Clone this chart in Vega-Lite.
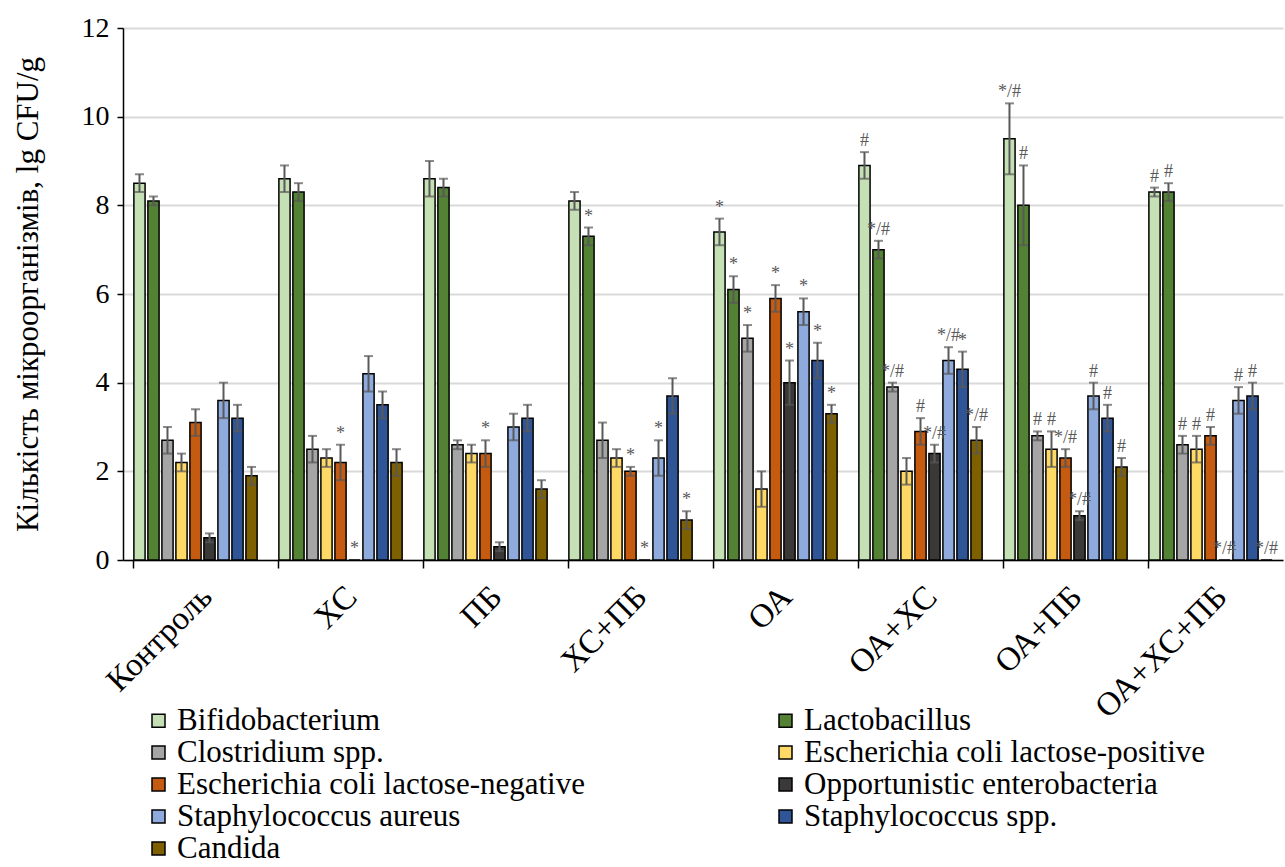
{
  "$schema": "https://vega.github.io/schema/vega-lite/v6.json",
  "autosize": {"type": "none"},
  "width": 1160,
  "height": 532,
  "padding": {"left": 123, "top": 28, "right": 2, "bottom": 307},
  "background": "white",
  "config": {
    "view": {"stroke": null},
    "font": "Liberation Serif",
    "axis": {"labelFont": "Liberation Serif", "titleFont": "Liberation Serif"},
    "legend": {"labelFont": "Liberation Serif", "titleFont": "Liberation Serif"},
    "text": {"font": "Liberation Serif"}
  },
  "data": {
    "values": [
      {"g": "Контроль", "s": "Bifidobacterium", "v": 8.5, "lo": 8.3, "hi": 8.7, "sig": ""},
      {"g": "Контроль", "s": "Lactobacillus", "v": 8.1, "lo": 8.0, "hi": 8.2, "sig": ""},
      {"g": "Контроль", "s": "Clostridium spp.", "v": 2.7, "lo": 2.4, "hi": 3.0, "sig": ""},
      {"g": "Контроль", "s": "Escherichia coli lactose-positive", "v": 2.2, "lo": 2.0, "hi": 2.4, "sig": ""},
      {"g": "Контроль", "s": "Escherichia coli lactose-negative", "v": 3.1, "lo": 2.8, "hi": 3.4, "sig": ""},
      {"g": "Контроль", "s": "Opportunistic enterobacteria", "v": 0.5, "lo": 0.4, "hi": 0.6, "sig": ""},
      {"g": "Контроль", "s": "Staphylococcus aureus", "v": 3.6, "lo": 3.2, "hi": 4.0, "sig": ""},
      {"g": "Контроль", "s": "Staphylococcus spp.", "v": 3.2, "lo": 2.9, "hi": 3.5, "sig": ""},
      {"g": "Контроль", "s": "Candida", "v": 1.9, "lo": 1.7, "hi": 2.1, "sig": ""},

      {"g": "ХС", "s": "Bifidobacterium", "v": 8.6, "lo": 8.3, "hi": 8.9, "sig": ""},
      {"g": "ХС", "s": "Lactobacillus", "v": 8.3, "lo": 8.1, "hi": 8.5, "sig": ""},
      {"g": "ХС", "s": "Clostridium spp.", "v": 2.5, "lo": 2.2, "hi": 2.8, "sig": ""},
      {"g": "ХС", "s": "Escherichia coli lactose-positive", "v": 2.3, "lo": 2.1, "hi": 2.5, "sig": ""},
      {"g": "ХС", "s": "Escherichia coli lactose-negative", "v": 2.2, "lo": 1.8, "hi": 2.6, "sig": "*"},
      {"g": "ХС", "s": "Opportunistic enterobacteria", "v": 0, "lo": 0, "hi": 0, "sig": "*"},
      {"g": "ХС", "s": "Staphylococcus aureus", "v": 4.2, "lo": 3.8, "hi": 4.6, "sig": ""},
      {"g": "ХС", "s": "Staphylococcus spp.", "v": 3.5, "lo": 3.2, "hi": 3.8, "sig": ""},
      {"g": "ХС", "s": "Candida", "v": 2.2, "lo": 1.9, "hi": 2.5, "sig": ""},

      {"g": "ПБ", "s": "Bifidobacterium", "v": 8.6, "lo": 8.2, "hi": 9.0, "sig": ""},
      {"g": "ПБ", "s": "Lactobacillus", "v": 8.4, "lo": 8.2, "hi": 8.6, "sig": ""},
      {"g": "ПБ", "s": "Clostridium spp.", "v": 2.6, "lo": 2.5, "hi": 2.7, "sig": ""},
      {"g": "ПБ", "s": "Escherichia coli lactose-positive", "v": 2.4, "lo": 2.2, "hi": 2.6, "sig": ""},
      {"g": "ПБ", "s": "Escherichia coli lactose-negative", "v": 2.4, "lo": 2.1, "hi": 2.7, "sig": "*"},
      {"g": "ПБ", "s": "Opportunistic enterobacteria", "v": 0.3, "lo": 0.2, "hi": 0.4, "sig": ""},
      {"g": "ПБ", "s": "Staphylococcus aureus", "v": 3.0, "lo": 2.7, "hi": 3.3, "sig": ""},
      {"g": "ПБ", "s": "Staphylococcus spp.", "v": 3.2, "lo": 2.9, "hi": 3.5, "sig": ""},
      {"g": "ПБ", "s": "Candida", "v": 1.6, "lo": 1.4, "hi": 1.8, "sig": ""},

      {"g": "ХС+ПБ", "s": "Bifidobacterium", "v": 8.1, "lo": 7.9, "hi": 8.3, "sig": ""},
      {"g": "ХС+ПБ", "s": "Lactobacillus", "v": 7.3, "lo": 7.1, "hi": 7.5, "sig": "*"},
      {"g": "ХС+ПБ", "s": "Clostridium spp.", "v": 2.7, "lo": 2.3, "hi": 3.1, "sig": ""},
      {"g": "ХС+ПБ", "s": "Escherichia coli lactose-positive", "v": 2.3, "lo": 2.1, "hi": 2.5, "sig": ""},
      {"g": "ХС+ПБ", "s": "Escherichia coli lactose-negative", "v": 2.0, "lo": 1.9, "hi": 2.1, "sig": "*"},
      {"g": "ХС+ПБ", "s": "Opportunistic enterobacteria", "v": 0, "lo": 0, "hi": 0, "sig": "*"},
      {"g": "ХС+ПБ", "s": "Staphylococcus aureus", "v": 2.3, "lo": 1.9, "hi": 2.7, "sig": "*"},
      {"g": "ХС+ПБ", "s": "Staphylococcus spp.", "v": 3.7, "lo": 3.3, "hi": 4.1, "sig": ""},
      {"g": "ХС+ПБ", "s": "Candida", "v": 0.9, "lo": 0.7, "hi": 1.1, "sig": "*"},

      {"g": "ОА", "s": "Bifidobacterium", "v": 7.4, "lo": 7.1, "hi": 7.7, "sig": "*"},
      {"g": "ОА", "s": "Lactobacillus", "v": 6.1, "lo": 5.8, "hi": 6.4, "sig": "*"},
      {"g": "ОА", "s": "Clostridium spp.", "v": 5.0, "lo": 4.7, "hi": 5.3, "sig": "*"},
      {"g": "ОА", "s": "Escherichia coli lactose-positive", "v": 1.6, "lo": 1.2, "hi": 2.0, "sig": ""},
      {"g": "ОА", "s": "Escherichia coli lactose-negative", "v": 5.9, "lo": 5.6, "hi": 6.2, "sig": "*"},
      {"g": "ОА", "s": "Opportunistic enterobacteria", "v": 4.0, "lo": 3.5, "hi": 4.5, "sig": "*"},
      {"g": "ОА", "s": "Staphylococcus aureus", "v": 5.6, "lo": 5.3, "hi": 5.9, "sig": "*"},
      {"g": "ОА", "s": "Staphylococcus spp.", "v": 4.5, "lo": 4.1, "hi": 4.9, "sig": "*"},
      {"g": "ОА", "s": "Candida", "v": 3.3, "lo": 3.1, "hi": 3.5, "sig": "*"},

      {"g": "ОА+ХС", "s": "Bifidobacterium", "v": 8.9, "lo": 8.6, "hi": 9.2, "sig": "#"},
      {"g": "ОА+ХС", "s": "Lactobacillus", "v": 7.0, "lo": 6.8, "hi": 7.2, "sig": "*/#"},
      {"g": "ОА+ХС", "s": "Clostridium spp.", "v": 3.9, "lo": 3.8, "hi": 4.0, "sig": "*/#"},
      {"g": "ОА+ХС", "s": "Escherichia coli lactose-positive", "v": 2.0, "lo": 1.7, "hi": 2.3, "sig": ""},
      {"g": "ОА+ХС", "s": "Escherichia coli lactose-negative", "v": 2.9, "lo": 2.6, "hi": 3.2, "sig": "#"},
      {"g": "ОА+ХС", "s": "Opportunistic enterobacteria", "v": 2.4, "lo": 2.2, "hi": 2.6, "sig": "*/#"},
      {"g": "ОА+ХС", "s": "Staphylococcus aureus", "v": 4.5, "lo": 4.2, "hi": 4.8, "sig": "*/#"},
      {"g": "ОА+ХС", "s": "Staphylococcus spp.", "v": 4.3, "lo": 3.9, "hi": 4.7, "sig": "*"},
      {"g": "ОА+ХС", "s": "Candida", "v": 2.7, "lo": 2.4, "hi": 3.0, "sig": "*/#"},

      {"g": "ОА+ПБ", "s": "Bifidobacterium", "v": 9.5, "lo": 8.7, "hi": 10.3, "sig": "*/#"},
      {"g": "ОА+ПБ", "s": "Lactobacillus", "v": 8.0, "lo": 7.1, "hi": 8.9, "sig": "#"},
      {"g": "ОА+ПБ", "s": "Clostridium spp.", "v": 2.8, "lo": 2.7, "hi": 2.9, "sig": "#"},
      {"g": "ОА+ПБ", "s": "Escherichia coli lactose-positive", "v": 2.5, "lo": 2.1, "hi": 2.9, "sig": "#"},
      {"g": "ОА+ПБ", "s": "Escherichia coli lactose-negative", "v": 2.3, "lo": 2.1, "hi": 2.5, "sig": "*/#"},
      {"g": "ОА+ПБ", "s": "Opportunistic enterobacteria", "v": 1.0, "lo": 0.9, "hi": 1.1, "sig": "*/#"},
      {"g": "ОА+ПБ", "s": "Staphylococcus aureus", "v": 3.7, "lo": 3.4, "hi": 4.0, "sig": "#"},
      {"g": "ОА+ПБ", "s": "Staphylococcus spp.", "v": 3.2, "lo": 2.9, "hi": 3.5, "sig": "#"},
      {"g": "ОА+ПБ", "s": "Candida", "v": 2.1, "lo": 1.9, "hi": 2.3, "sig": "#"},

      {"g": "ОА+ХС+ПБ", "s": "Bifidobacterium", "v": 8.3, "lo": 8.2, "hi": 8.4, "sig": "#"},
      {"g": "ОА+ХС+ПБ", "s": "Lactobacillus", "v": 8.3, "lo": 8.1, "hi": 8.5, "sig": "#"},
      {"g": "ОА+ХС+ПБ", "s": "Clostridium spp.", "v": 2.6, "lo": 2.4, "hi": 2.8, "sig": "#"},
      {"g": "ОА+ХС+ПБ", "s": "Escherichia coli lactose-positive", "v": 2.5, "lo": 2.2, "hi": 2.8, "sig": "#"},
      {"g": "ОА+ХС+ПБ", "s": "Escherichia coli lactose-negative", "v": 2.8, "lo": 2.6, "hi": 3.0, "sig": "#"},
      {"g": "ОА+ХС+ПБ", "s": "Opportunistic enterobacteria", "v": 0, "lo": 0, "hi": 0, "sig": "*/#"},
      {"g": "ОА+ХС+ПБ", "s": "Staphylococcus aureus", "v": 3.6, "lo": 3.3, "hi": 3.9, "sig": "#"},
      {"g": "ОА+ХС+ПБ", "s": "Staphylococcus spp.", "v": 3.7, "lo": 3.4, "hi": 4.0, "sig": "#"},
      {"g": "ОА+ХС+ПБ", "s": "Candida", "v": 0, "lo": 0, "hi": 0, "sig": "*/#"}
    ]
  },
  "encoding": {
    "x": {
      "field": "g", "type": "nominal",
      "sort": ["Контроль", "ХС", "ПБ", "ХС+ПБ", "ОА", "ОА+ХС", "ОА+ПБ", "ОА+ХС+ПБ"],
      "scale": {"paddingInner": 0.15, "paddingOuter": 0.075},
      "axis": null
    },
    "xOffset": {
      "field": "s", "type": "nominal",
      "sort": ["Bifidobacterium", "Lactobacillus", "Clostridium spp.", "Escherichia coli lactose-positive", "Escherichia coli lactose-negative", "Opportunistic enterobacteria", "Staphylococcus aureus", "Staphylococcus spp.", "Candida"],
      "scale": {"paddingInner": 0.2, "paddingOuter": 0}
    }
  },
  "layer": [
    {
      "mark": {"type": "bar", "stroke": "black", "strokeWidth": 1.5},
      "encoding": {
        "x": {
          "field": "g", "type": "nominal",
          "sort": ["Контроль", "ХС", "ПБ", "ХС+ПБ", "ОА", "ОА+ХС", "ОА+ПБ", "ОА+ХС+ПБ"],
          "title": null,
          "axis": {
            "orient": "bottom",
            "labelAngle": -45,
            "labelFontSize": 33,
            "labelColor": "black",
            "labelPadding": 20,
            "ticks": false,
            "domain": false,
            "grid": false
          }
        },
        "y": {
          "field": "v", "type": "quantitative",
          "scale": {"domain": [0, 12], "nice": false},
          "title": "Кількість мікроорганізмів,  lg CFU/g",
          "axis": {
            "values": [0, 2, 4, 6, 8, 10, 12],
            "labelFontSize": 28,
            "labelColor": "black",
            "labelPadding": 8,
            "tickColor": "black",
            "tickSize": 6,
            "tickWidth": 1.5,
            "domainColor": "black",
            "domainWidth": 1.5,
            "gridColor": "#D9D9D9",
            "gridWidth": 2,
            "titleFontSize": 31,
            "titleFontWeight": "normal",
            "titleColor": "black",
            "titlePadding": 37
          }
        },
        "fill": {
          "field": "s", "type": "nominal",
          "sort": ["Bifidobacterium", "Lactobacillus", "Clostridium spp.", "Escherichia coli lactose-positive", "Escherichia coli lactose-negative", "Opportunistic enterobacteria", "Staphylococcus aureus", "Staphylococcus spp.", "Candida"],
          "scale": {
            "domain": ["Bifidobacterium", "Lactobacillus", "Clostridium spp.", "Escherichia coli lactose-positive", "Escherichia coli lactose-negative", "Opportunistic enterobacteria", "Staphylococcus aureus", "Staphylococcus spp.", "Candida"],
            "range": ["#C5E0B4", "#548235", "#A5A5A5", "#FFD966", "#C55A11", "#3B3838", "#8FAADC", "#2F5597", "#7F6000"]
          },
          "legend": {
            "title": null,
            "orient": "none",
            "legendX": 20,
            "legendY": 677,
            "direction": "horizontal",
            "columns": 2,
            "columnPadding": 185,
            "rowPadding": 0,
            "symbolType": "square",
            "symbolSize": 169,
            "symbolStrokeColor": "black",
            "symbolStrokeWidth": 1.5,
            "labelFontSize": 31,
            "labelColor": "black",
            "labelOffset": 3,
            "labelLimit": 600
          }
        }
      }
    },
    {
      "transform": [{"filter": "datum.v > 0"}],
      "mark": {"type": "rule", "color": "#595959", "strokeWidth": 2},
      "encoding": {
        "x": {
          "field": "g", "type": "nominal",
          "sort": ["Контроль", "ХС", "ПБ", "ХС+ПБ", "ОА", "ОА+ХС", "ОА+ПБ", "ОА+ХС+ПБ"],
          "title": null,
          "axis": {
            "orient": "bottom",
            "bandPosition": 0,
            "labels": false,
            "ticks": true,
            "tickColor": "black",
            "tickSize": 8,
            "tickWidth": 1.5,
            "domainColor": "black",
            "domainWidth": 1.5,
            "grid": false
          }
        },
        "y": {"field": "lo", "type": "quantitative"},
        "y2": {"field": "hi"}
      }
    },
    {
      "transform": [{"filter": "datum.v > 0"}],
      "mark": {"type": "tick", "color": "#595959", "size": 9, "thickness": 2},
      "encoding": {"y": {"field": "lo", "type": "quantitative"}}
    },
    {
      "transform": [{"filter": "datum.v > 0"}],
      "mark": {"type": "tick", "color": "#595959", "size": 9, "thickness": 2},
      "encoding": {"y": {"field": "hi", "type": "quantitative"}}
    },
    {
      "mark": {"type": "text", "fontSize": 18, "color": "#595959", "baseline": "bottom", "dy": -2},
      "encoding": {
        "y": {"field": "hi", "type": "quantitative"},
        "text": {"field": "sig"}
      }
    }
  ],
  "resolve": {"axis": {"x": "independent"}}
}
